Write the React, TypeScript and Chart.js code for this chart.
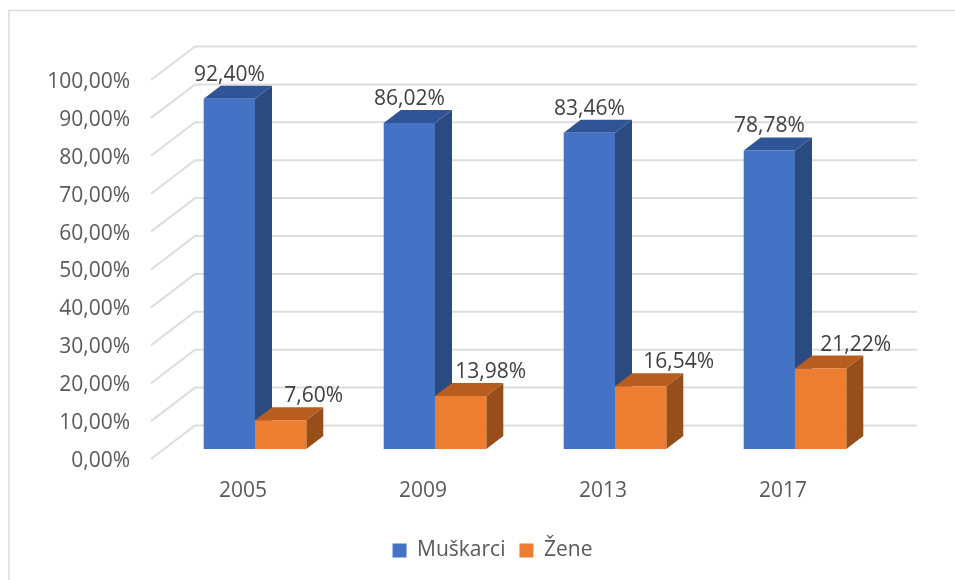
import React, { useEffect, useRef } from "react";
import { Chart, registerables } from "chart.js";

Chart.register(...registerables);

const categories = ["2005", "2009", "2013", "2017"];
const muskarci = [92.4, 86.02, 83.46, 78.78];
const zene = [7.6, 13.98, 16.54, 21.22];
const seriesNames = ["Muškarci", "Žene"];
const frontColors = ["#4472C4", "#ED7D31"];
const topColors = ["#2F5597", "#B85D20"];
const sideColors = ["#2A4A80", "#964F1B"];
const zeneLabelShift = [33, 30, 38, 35];

const FONT = "'Open Sans', sans-serif";
const GRID = "#DDDDDD";
const fmt = (v: number) => v.toFixed(2).replace(".", ",") + "%";

const BAR_DX = 17;
const BAR_DY = -13;
const WALL_DX = 44;
const WALL_DY = -33.5;
const WALL_RIGHT = 917;
const LEGEND_BOTTOM = 9;
const LEGEND_SHIFT = 37;

const threeD = {
  id: "threeD",
  afterLayout(chart: any) {
    if (chart.legend) {
      chart.legend.left += LEGEND_SHIFT;
      chart.legend.right += LEGEND_SHIFT;
    }
  },
  beforeDraw(chart: any) {
    const c = chart.ctx;
    c.save();
    c.fillStyle = "#FFFFFF";
    c.fillRect(0, 0, chart.width, chart.height);
    c.strokeStyle = "#DBDBDB";
    c.lineWidth = 1.5;
    c.beginPath();
    c.moveTo(9, chart.height);
    c.lineTo(9, 10.5);
    c.lineTo(chart.width, 10.5);
    c.stroke();
    c.restore();
  },
  beforeDatasetsDraw(chart: any) {
    const c = chart.ctx;
    const y = chart.scales.y;
    const x0 = chart.chartArea.left - 14;
    c.save();
    c.strokeStyle = GRID;
    c.lineWidth = 2;
    y.ticks.forEach((t: any) => {
      const py = y.getPixelForValue(t.value);
      c.beginPath();
      c.moveTo(x0, py);
      c.lineTo(x0 + WALL_DX, py + WALL_DY);
      c.lineTo(WALL_RIGHT, py + WALL_DY);
      c.stroke();
    });
    [0, 1].forEach((d) => {
      chart.getDatasetMeta(d).data.forEach((b: any) => {
        const half = b.width / 2;
        const l = b.x - half;
        const r = b.x + half;
        c.fillStyle = sideColors[d];
        c.beginPath();
        c.moveTo(r, b.y);
        c.lineTo(r + BAR_DX, b.y + BAR_DY);
        c.lineTo(r + BAR_DX, b.base + BAR_DY);
        c.lineTo(r, b.base);
        c.closePath();
        c.fill();
        c.fillStyle = topColors[d];
        c.beginPath();
        c.moveTo(l, b.y);
        c.lineTo(l + BAR_DX, b.y + BAR_DY);
        c.lineTo(r + BAR_DX, b.y + BAR_DY);
        c.lineTo(r, b.y);
        c.closePath();
        c.fill();
      });
    });
    c.restore();
  },
  afterDatasetsDraw(chart: any) {
    const c = chart.ctx;
    c.save();
    c.font = `21px ${FONT}`;
    c.fillStyle = "#404040";
    c.textAlign = "center";
    c.textBaseline = "middle";
    [0, 1].forEach((d) => {
      const values = chart.data.datasets[d].data;
      chart.getDatasetMeta(d).data.forEach((b: any, i: number) => {
        const shift = d === 1 ? zeneLabelShift[i] : 0;
        c.fillText(fmt(values[i]), b.x + shift, b.y - 24);
      });
    });
    c.restore();
  },
};

export default function App() {
  const ref = useRef<HTMLCanvasElement>(null);
  useEffect(() => {
    const chart = new Chart(ref.current as HTMLCanvasElement, {
      type: "bar",
      data: {
        labels: categories,
        datasets: [
          { label: seriesNames[0], data: muskarci, backgroundColor: frontColors[0], yAxisID: "bars", borderWidth: 0 },
          { label: seriesNames[1], data: zene, backgroundColor: frontColors[1], yAxisID: "bars", borderWidth: 0 },
        ],
      },
      options: {
        responsive: false,
        animation: false,
        events: [],
        layout: { padding: { top: 80, left: 26, right: 70, bottom: LEGEND_BOTTOM } },
        datasets: { bar: { categoryPercentage: 0.57, barPercentage: 1 } },
        scales: {
          x: {
            grid: { display: false },
            border: { display: false },
            ticks: { color: "#595959", font: { family: FONT, size: 21 }, padding: 11, labelOffset: -12, maxRotation: 0 },
            afterFit: (s: any) => {
              s.height = 121 - LEGEND_BOTTOM - (s.chart.legend?.height ?? 0);
            },
          },
          y: {
            min: 0,
            max: 100,
            grid: { display: false },
            border: { display: false },
            ticks: {
              stepSize: 10,
              color: "#595959",
              font: { family: FONT, size: 21 },
              padding: 27,
              labelOffset: 2,
              callback: (v: any) => fmt(Number(v)),
            },
            afterFit: (s: any) => {
              s.width = 139;
            },
          },
          bars: { display: false, min: -2.64, max: 97.36 },
        },
        plugins: {
          tooltip: { enabled: false },
          legend: {
            position: "bottom",
            labels: {
              boxWidth: 14,
              boxHeight: 14,
              padding: 14,
              color: "#595959",
              font: { family: FONT, size: 21 },
            },
          },
        },
      } as any,
      plugins: [threeD],
    });
    return () => chart.destroy();
  }, []);
  return (
    <canvas
      ref={ref}
      width={955}
      height={580}
      style={{ position: "fixed", left: 0, top: 0, display: "block" }}
    />
  );
}
